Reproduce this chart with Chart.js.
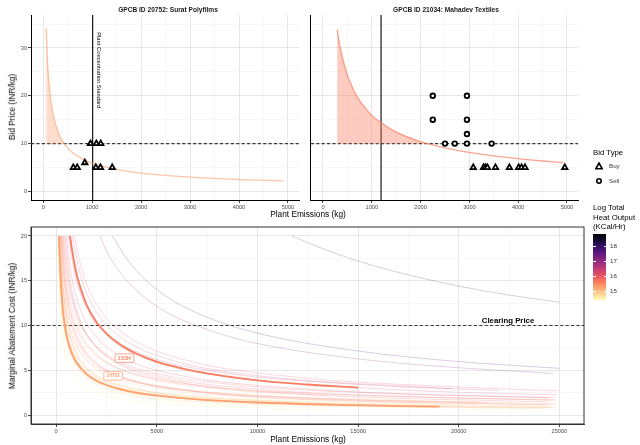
<!DOCTYPE html>
<html>
<head>
<meta charset="utf-8">
<script src="https://cdn.jsdelivr.net/npm/chart.js@4.4.0/dist/chart.umd.min.js"></script>
<style>
  body { margin: 0; background: #fff; width: 640px; height: 445px; position: relative; overflow: hidden;
         font-family: "Liberation Sans", Arial, Helvetica, sans-serif; }
  canvas { position: absolute; }
  .t { position: absolute; white-space: nowrap; color: #000; line-height: 1;
       will-change: transform; -webkit-font-smoothing: antialiased; }
  .c { transform: translate(-50%, -50%); }
  .rot { transform: translate(-50%, -50%) rotate(-90deg); }
  .ttl { font-size: 6.6px; font-weight: bold; color: #1a1a1a; }
  .axt { font-size: 8.3px; }
  .leg { font-size: 7.8px; transform: translateZ(0); }
  .lab { font-size: 6.2px; color: #333; transform: translateZ(0); }
  #bar { position: absolute; left: 593px; top: 234px; width: 13px; height: 66px; }
  .tk { position: absolute; height: 0.8px; width: 2.5px; background: #fff; }
</style>
</head>
<body>
<canvas id="left" style="left:0;top:0;width:305px;height:222px" width="305" height="222"></canvas>
<canvas id="right" style="left:305px;top:0;width:279px;height:222px" width="279" height="222"></canvas>
<canvas id="mac" style="left:0;top:222px;width:585px;height:223px" width="585" height="223"></canvas>

<div class="t c ttl" style="left:168px;top:10px">GPCB ID 20752: Surat Polyfilms</div>
<div class="t c ttl" style="left:446px;top:10px">GPCB ID 21034: Mahadev Textiles</div>
<div class="t rot axt" style="left:12px;top:107px">Bid Price (INR/kg)</div>
<div class="t c axt" style="left:308px;top:214px">Plant Emissions (kg)</div>
<div class="t rot axt" style="left:12px;top:326px">Marginal Abatement Cost (INR/kg)</div>
<div class="t c axt" style="left:308px;top:439px">Plant Emissions (kg)</div>

<div class="t leg" style="left:593px;top:149px">Bid Type</div>
<svg style="position:absolute;left:595px;top:162px" width="8" height="8">
  <polygon points="4,1 7.2,6.8 0.8,6.8" fill="#fff" stroke="#000" stroke-width="1.6"/>
</svg>
<div class="t lab" style="left:609px;top:163px">Buy</div>
<svg style="position:absolute;left:595px;top:177px" width="8" height="8">
  <circle cx="4" cy="4" r="2.2" fill="#fff" stroke="#000" stroke-width="1.6"/>
</svg>
<div class="t lab" style="left:609px;top:178px">Sell</div>

<div class="t leg" style="left:593px;top:203px;line-height:9.5px">Log Total<br>Heat Output<br>(KCal/Hr)</div>
<div id="bar"></div>
<div id="barLabels"></div>

<script>
const FONT = '"Liberation Sans", Arial, Helvetica, sans-serif';
Chart.defaults.font.family = FONT;

// axis breaks
const bidBreaksX = [0, 1000, 2000, 3000, 4000, 5000];
const bidBreaksY = [0, 10, 20, 30];
const macBreaksX = [0, 5000, 10000, 15000, 20000, 25000];
const macBreaksY = [0, 5, 10, 15, 20];
const heatBreaks = [15, 16, 17, 18];

const clearingPrice = 10;
const standard20752 = 1010;
const standard21034 = 1190;

// cost curves of the two featured plants, [emissions (kg), INR/kg]
const curve20752 = [[60, 34.3], [80, 28.7], [100, 24.9], [142, 20], [150, 19.3], [200, 16.2], [300, 12.5],
  [430, 10.0], [600, 8.1], [800, 6.8], [1000, 5.9], [1500, 4.6], [2000, 3.83], [3000, 2.97], [4000, 2.48],
  [4900, 2.2], [7000, 1.75], [10000, 1.4], [14000, 1.14], [19050, 0.94]];
const curve21034 = [[290, 33.9], [350, 30.2], [400, 27.9], [500, 24.3], [600, 21.8], [689, 20], [800, 18.3],
  [1000, 15.9], [1200, 14.3], [1500, 12.4], [2000, 10.4], [2140, 10.0], [2500, 9.1], [3000, 8.15], [3500, 7.42],
  [4000, 6.84], [4500, 6.36], [4920, 6.03], [5500, 5.63], [7000, 4.86], [10000, 3.88], [12500, 3.41], [15000, 3.05]];
const heat20752 = 15.28;
const heat21034 = 15.6;

// bids, [emissions (kg), price]
const buy20752 = [[615, 5], [695, 5], [850, 6], [1075, 5], [1170, 5], [1410, 5], [965, 10], [1085, 10], [1175, 10]];
const buy21034 = [[3080, 5], [3290, 5], [3330, 5], [3370, 5], [3535, 5], [3820, 5], [4010, 5], [4070, 5], [4140, 5], [4955, 5]];
const sell21034 = [[2250, 20], [2950, 20], [2250, 15], [2950, 15], [2950, 12], [2500, 10], [2700, 10], [2950, 10], [3455, 10]];

// the other plants: log heat output and cost curve
const otherHeat = [14.5, 14.7, 14.9, 15.0, 15.2, 15.4, 15.5, 15.8, 14.6, 14.8, 16.0, 16.2, 15.9, 16.1, 16.0,
  15.3, 14.5, 15.7, 16.3, 14.7, 15.6, 15.9, 14.6, 15.5, 16.4, 14.4, 14.5, 14.6, 15.0, 15.3, 17.0, 17.6, 18.6];
const otherCurves = [
  [[90, 20], [135, 15.7], [225, 11.54], [360, 8.71], [630, 6.22], [1080, 4.5], [2250, 2.9], [4500, 1.91], [9000, 1.26], [18000, 0.83], [24000, 0.7]],
  [[120, 20], [180, 15.7], [300, 11.54], [480, 8.71], [840, 6.22], [1440, 4.5], [3000, 2.9], [6000, 1.91], [12000, 1.26], [24800, 0.82]],
  [[140, 20], [210, 15.37], [350, 11.03], [560, 8.12], [980, 5.65], [1680, 3.98], [3500, 2.47], [7000, 1.57], [14000, 1.0], [19000, 0.82]],
  [[160, 20], [240, 15.7], [400, 11.54], [640, 8.71], [1120, 6.22], [1920, 4.5], [4000, 2.9], [8000, 1.91], [16000, 1.26], [24500, 0.98]],
  [[200, 20], [300, 15.37], [500, 11.03], [800, 8.12], [1400, 5.65], [2400, 3.98], [5000, 2.47], [10000, 1.57], [20000, 1.0], [24700, 0.87]],
  [[180, 20], [270, 16.0], [450, 12.08], [720, 9.33], [1260, 6.86], [2160, 5.1], [4500, 3.41], [9000, 2.33], [18000, 1.59], [21000, 1.46]],
  [[250, 20], [375, 15.7], [625, 11.54], [1000, 8.71], [1750, 6.22], [3000, 4.5], [6250, 2.9], [12500, 1.91], [24900, 1.26]],
  [[300, 20], [450, 15.37], [750, 11.03], [1200, 8.12], [2100, 5.65], [3600, 3.98], [7500, 2.47], [15000, 1.57], [24600, 1.14]],
  [[110, 20], [165, 16.0], [275, 12.08], [440, 9.33], [770, 6.86], [1320, 5.1], [2750, 3.41], [5500, 2.33], [11000, 1.59], [12000, 1.52]],
  [[130, 20], [195, 15.7], [325, 11.54], [520, 8.71], [910, 6.22], [1560, 4.5], [3250, 2.9], [6500, 1.91], [13000, 1.26], [17000, 1.07]],
  [[400, 20], [600, 15.7], [1000, 11.54], [1600, 8.71], [2800, 6.22], [4800, 4.5], [10000, 2.9], [20000, 1.91], [24800, 1.68]],
  [[500, 20], [750, 15.7], [1250, 11.54], [2000, 8.71], [3500, 6.22], [6000, 4.5], [12500, 2.9], [24500, 1.93]],
  [[350, 20], [525, 16.0], [875, 12.08], [1400, 9.33], [2450, 6.86], [4200, 5.1], [8750, 3.41], [17500, 2.33], [24800, 1.92]],
  [[650, 20], [975, 15.7], [1625, 11.54], [2600, 8.71], [4550, 6.22], [7800, 4.5], [16250, 2.9], [24900, 2.24]],
  [[900, 20], [1350, 15.7], [2250, 11.54], [3600, 8.71], [6300, 6.22], [10800, 4.5], [22500, 2.9], [24900, 2.73]],
  [[220, 20], [330, 15.06], [550, 10.53], [880, 7.58], [1540, 5.12], [2640, 3.51], [5500, 2.1], [11000, 1.29], [22000, 0.8], [24300, 0.74]],
  [[100, 20], [150, 16.0], [250, 12.08], [400, 9.33], [700, 6.86], [1200, 5.1], [2500, 3.41], [5000, 2.33], [10000, 1.59], [15500, 1.25]],
  [[270, 20], [405, 16.0], [675, 12.08], [1080, 9.33], [1890, 6.86], [3240, 5.1], [6750, 3.41], [13500, 2.33], [24600, 1.67]],
  [[800, 20], [1200, 15.7], [2000, 11.54], [3200, 8.71], [5600, 6.22], [9600, 4.5], [19700, 2.93]],
  [[160, 20], [240, 15.06], [400, 10.53], [640, 7.58], [1120, 5.12], [1920, 3.51], [4000, 2.1], [8000, 1.29], [11500, 1.0]],
  [[240, 20], [360, 15.7], [600, 11.54], [960, 8.71], [1680, 6.22], [2880, 4.5], [6000, 2.9], [12000, 1.91], [21500, 1.35]],
  [[450, 20], [675, 15.37], [1125, 11.03], [1800, 8.12], [3150, 5.65], [5400, 3.98], [11250, 2.47], [22500, 1.57], [24400, 1.49]],
  [[120, 20], [180, 16.0], [300, 12.08], [480, 9.33], [840, 6.86], [1440, 5.1], [3000, 3.41], [6000, 2.33], [12000, 1.59], [21000, 1.17]],
  [[330, 20], [495, 15.7], [825, 11.54], [1320, 8.71], [2310, 6.22], [3960, 4.5], [8250, 2.9], [13500, 2.16]],
  [[600, 20], [900, 16.0], [1500, 12.08], [2400, 9.33], [4200, 6.86], [7200, 5.1], [15000, 3.41], [22000, 2.76]],
  [[80, 20], [120, 15.37], [200, 11.03], [320, 8.12], [560, 5.65], [960, 3.98], [2000, 2.47], [4000, 1.57], [8000, 1.0], [9000, 0.93]],
  [[100, 20], [150, 15.06], [250, 10.53], [400, 7.58], [700, 5.12], [1200, 3.51], [2500, 2.1], [5000, 1.29], [10000, 0.8], [14000, 0.63]],
  [[140, 20], [210, 15.7], [350, 11.54], [560, 8.71], [980, 6.22], [1680, 4.5], [3500, 2.9], [7000, 1.91], [8000, 1.77]],
  [[210, 20], [315, 15.7], [525, 11.54], [840, 8.71], [1470, 6.22], [2520, 4.5], [5250, 2.9], [10500, 1.91], [21000, 1.26], [24300, 1.16]],
  [[170, 20], [255, 15.37], [425, 11.03], [680, 8.12], [1190, 5.65], [2040, 3.98], [4250, 2.47], [8500, 1.57], [17000, 1.0], [24500, 0.83]],
  [[2170, 20], [2600, 17.9], [3255, 15.7], [4300, 13.3], [5425, 11.54], [6500, 10.4], [8680, 8.71], [11000, 7.55], [15190, 6.22], [19000, 5.44], [24700, 4.65]],
  [[2800, 20], [3400, 17.8], [4200, 15.6], [5500, 13.2], [7000, 11.4], [8650, 10.0], [11000, 8.63], [13600, 7.6], [17000, 6.6], [21000, 5.8], [25000, 5.22]],
  [[11700, 20], [13000, 18.8], [15000, 17.2], [17500, 15.65], [20000, 14.4], [22500, 13.4], [25000, 12.6]]
];

// colour scale: reversed magma over the log heat output range
const HEAT_LO = 14.4, HEAT_HI = 18.8;
const MAGMA = ['#000004', '#140e36', '#3b0f70', '#641a80', '#8c2981', '#b73779',
  '#de4968', '#f7705c', '#fe9f6d', '#fecf92', '#fcfdbf'];

function hexRgb(h) {
  return [1, 3, 5].map(i => parseInt(h.slice(i, i + 2), 16));
}
function magma(t, a) {
  t = Math.min(1, Math.max(0, t));
  const p = t * (MAGMA.length - 1);
  const i = Math.min(MAGMA.length - 2, Math.floor(p));
  const f = p - i;
  const c0 = hexRgb(MAGMA[i]), c1 = hexRgb(MAGMA[i + 1]);
  const c = c0.map((v, k) => Math.round(v + (c1[k] - v) * f));
  return `rgba(${c[0]},${c[1]},${c[2]},${a})`;
}
function heatColour(h, a) {
  return magma(1 - (h - HEAT_LO) / (HEAT_HI - HEAT_LO), a);
}

const xy = pts => pts.map(p => ({ x: p[0], y: p[1] }));

// linear axis with labelled major breaks and unlabelled minor gridlines halfway
function axis(min, max, majors, labels, size, horizontal, borderColor) {
  const half = (majors[1] - majors[0]) / 2;
  const minors = [];
  majors.forEach(v => {
    [v - half, v + half].forEach(m => {
      if (m > min && m < max && !majors.includes(m) && !minors.includes(m)) minors.push(m);
    });
  });
  const all = majors.concat(minors).sort((a, b) => a - b);
  const isMajor = c => c.tick && majors.includes(c.tick.value);
  return {
    type: 'linear', min, max,
    afterBuildTicks: s => { s.ticks = all.map(v => ({ value: v })); },
    afterFit: s => { if (horizontal) s.height = size; else s.width = size; },
    ticks: {
      display: labels, autoSkip: false, maxRotation: 0, padding: 1,
      color: '#4d4d4d', font: { size: 5.6 },
      callback: v => majors.includes(v) ? String(v) : ''
    },
    grid: {
      color: c => isMajor(c) ? '#e4e4e4' : '#f1f1f1',
      lineWidth: c => isMajor(c) ? 0.9 : 0.6,
      drawTicks: labels, tickLength: 3,
      tickColor: c => isMajor(c) ? '#333' : 'rgba(0,0,0,0)'
    },
    border: { display: true, color: borderColor, width: 1 }
  };
}

// reference lines, notes and plant tags drawn in data coordinates
function decor(cfg) {
  return {
    id: 'decor',
    beforeDatasetsDraw(chart) {
      const { ctx, chartArea: a, scales: { x, y } } = chart;
      ctx.save();
      ctx.beginPath(); ctx.rect(a.left, a.top, a.width, a.height); ctx.clip();
      if (cfg.vline != null) {
        const px = x.getPixelForValue(cfg.vline);
        ctx.strokeStyle = '#000'; ctx.lineWidth = 1.1;
        ctx.beginPath(); ctx.moveTo(px, a.top); ctx.lineTo(px, a.bottom); ctx.stroke();
      }
      const py = y.getPixelForValue(cfg.hline);
      ctx.strokeStyle = '#3a3a3a'; ctx.lineWidth = 1.1; ctx.setLineDash([3.2, 2.2]);
      ctx.beginPath(); ctx.moveTo(a.left, py); ctx.lineTo(a.right, py); ctx.stroke();
      ctx.restore();
    },
    afterDatasetsDraw(chart) {
      const { ctx, scales: { x, y } } = chart;
      ctx.save();
      if (cfg.vnote) {
        ctx.translate(x.getPixelForValue(cfg.vline) + 6, y.getPixelForValue(cfg.vnote.y));
        ctx.rotate(Math.PI / 2);
        ctx.font = '5.8px ' + FONT; ctx.fillStyle = '#000';
        ctx.textAlign = 'left'; ctx.textBaseline = 'middle';
        ctx.fillText(cfg.vnote.text, 0, 0);
        ctx.setTransform(1, 0, 0, 1, 0, 0);
      }
      if (cfg.hnote) {
        ctx.font = 'bold 7.8px ' + FONT; ctx.fillStyle = '#000';
        ctx.textAlign = 'center'; ctx.textBaseline = 'bottom';
        ctx.fillText(cfg.hnote.text, x.getPixelForValue(cfg.hnote.x), y.getPixelForValue(cfg.hline) - 1);
      }
      (cfg.tags || []).forEach(t => {
        const cx = x.getPixelForValue(t.x), cy = y.getPixelForValue(t.y);
        ctx.font = 'bold 4.6px ' + FONT;
        const w = ctx.measureText(t.text).width + 6, h = 8.5;
        ctx.beginPath(); ctx.roundRect(cx - w / 2, cy - h / 2, w, h, 1.5);
        ctx.fillStyle = '#fff'; ctx.fill();
        ctx.strokeStyle = t.colour; ctx.lineWidth = 0.7; ctx.stroke();
        ctx.fillStyle = t.colour; ctx.textAlign = 'center'; ctx.textBaseline = 'middle';
        ctx.fillText(t.text, cx, cy + 0.3);
      });
      ctx.restore();
    },
    afterDraw(chart) {
      if (!cfg.frame) return;
      const { ctx, chartArea: a } = chart;
      ctx.save();
      ctx.strokeStyle = '#333'; ctx.lineWidth = 1;
      ctx.strokeRect(a.left, a.top, a.width, a.height);
      ctx.restore();
    }
  };
}

function bids(pts, style, r) {
  return {
    data: xy(pts), showLine: false, pointStyle: style, pointRadius: r,
    pointBackgroundColor: '#fff', pointBorderColor: '#000', pointBorderWidth: 1.8
  };
}
function curve(pts, colour, width) {
  return {
    data: xy(pts), borderColor: colour, borderWidth: width, pointRadius: 0,
    cubicInterpolationMode: 'monotone', fill: false
  };
}
function shade(pts, colour) {
  return {
    data: xy(pts.filter(p => p[1] >= clearingPrice)), borderWidth: 0, pointRadius: 0,
    cubicInterpolationMode: 'monotone', backgroundColor: colour, fill: { value: clearingPrice }
  };
}

const common = {
  responsive: false, animation: false, events: [],
  plugins: { legend: { display: false }, tooltip: { enabled: false } }
};

// bid panel for plant 20752
new Chart(document.getElementById('left'), {
  type: 'line',
  data: {
    datasets: [
      bids(buy20752, 'triangle', 3.1),
      curve(curve20752.filter(p => p[0] <= 5000), heatColour(heat20752, 0.6), 1.3),
      shade(curve20752, heatColour(heat20752, 0.35))
    ]
  },
  options: {
    ...common,
    layout: { padding: { top: 15, right: 0, bottom: 0, left: 0 } },
    scales: {
      x: axis(-250, 5230, bidBreaksX, true, 22, true, '#000'),
      y: axis(-1.8, 36.9, bidBreaksY, true, 31, false, '#000')
    }
  },
  plugins: [decor({ hline: clearingPrice, vline: standard20752,
    vnote: { text: 'Plant Concentration Standard', y: 33.3 } })]
});

// bid panel for plant 21034
new Chart(document.getElementById('right'), {
  type: 'line',
  data: {
    datasets: [
      bids(sell21034, 'circle', 2.3),
      bids(buy21034, 'triangle', 3.1),
      curve(curve21034.filter(p => p[0] <= 5000), heatColour(heat21034, 0.7), 1.3),
      shade(curve21034, heatColour(heat21034, 0.4))
    ]
  },
  options: {
    ...common,
    layout: { padding: { top: 15, right: 0, bottom: 0, left: 0 } },
    scales: {
      x: axis(-250, 5230, bidBreaksX, true, 22, true, '#000'),
      y: axis(-1.8, 36.9, bidBreaksY, false, 4, false, '#000')
    }
  },
  plugins: [decor({ hline: clearingPrice, vline: standard21034 })]
});

// marginal abatement cost curves of all plants, featured plants drawn on top
const colour20752 = heatColour(heat20752, 1);
const colour21034 = heatColour(heat21034, 1);
const macSets = [
  curve(curve21034.filter(p => p[1] <= 20), colour21034, 1.8),
  curve(curve20752.filter(p => p[1] <= 20), colour20752, 1.8)
].concat(otherCurves.map((pts, i) => curve(pts, heatColour(otherHeat[i], 0.3), otherHeat[i] > 18 ? 0.6 : 0.75)));

new Chart(document.getElementById('mac'), {
  type: 'line',
  data: { datasets: macSets },
  options: {
    ...common,
    layout: { padding: { top: 5, right: 1, bottom: 0, left: 0 } },
    scales: {
      x: axis(-1250, 26225, macBreaksX, true, 21, true, '#333'),
      y: axis(-1, 21, macBreaksY, true, 31, false, '#333')
    }
  },
  plugins: [decor({
    hline: clearingPrice, frame: true,
    hnote: { text: 'Clearing Price', x: 22450 },
    tags: [
      { text: '21034', x: 3395, y: 6.36, colour: colour21034 },
      { text: '20752', x: 2835, y: 4.37, colour: colour20752 }
    ]
  })]
});

// colour bar legend
const bar = document.getElementById('bar');
bar.style.background = 'linear-gradient(to bottom, ' +
  MAGMA.map((c, i) => `${c} ${(i * 100 / (MAGMA.length - 1)).toFixed(1)}%`).join(', ') + ')';
const barLabels = document.getElementById('barLabels');
heatBreaks.forEach(h => {
  const py = 234 + (HEAT_HI - h) * 15;
  barLabels.insertAdjacentHTML('beforeend',
    `<div class="tk" style="left:593px;top:${py - 0.4}px"></div>` +
    `<div class="tk" style="left:603.5px;top:${py - 0.4}px"></div>` +
    `<div class="t lab" style="left:610px;top:${py - 3.2}px">${h}</div>`);
});
</script>
</body>
</html>
